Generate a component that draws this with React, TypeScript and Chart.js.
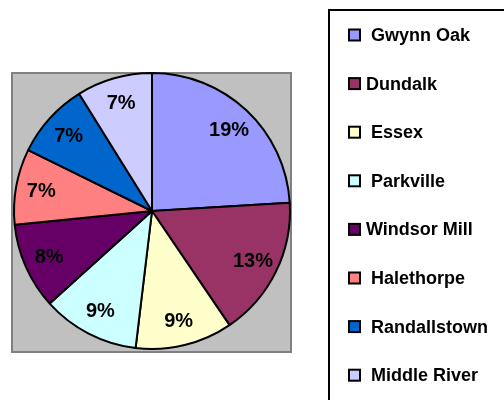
import React, { useEffect, useRef } from "react";
import { Chart, registerables } from "chart.js";

Chart.register(...registerables);

const categories = [
  " Gwynn Oak",
  "Dundalk",
  " Essex",
  " Parkville",
  "Windsor Mill",
  " Halethorpe",
  " Randallstown",
  " Middle River",
];
const values = [19, 13, 9, 9, 8, 7, 7, 7];
const colors = [
  "#9999FF",
  "#993366",
  "#FFFFCC",
  "#CCFFFF",
  "#660066",
  "#FF8080",
  "#0066CC",
  "#CCCCFF",
];

const FONT = '"Liberation Sans", Arial, sans-serif';

const bgPlugin = {
  id: "plotBg",
  beforeDraw(chart: any) {
    const { ctx, chartArea } = chart;
    ctx.save();
    const x = chartArea.left - 1;
    const y = chartArea.top + 1;
    const w = chartArea.right - chartArea.left + 1;
    const h = chartArea.bottom - chartArea.top + 1;
    ctx.fillStyle = "#C0C0C0";
    ctx.fillRect(x, y, w, h);
    ctx.strokeStyle = "#808080";
    ctx.lineWidth = 2;
    ctx.strokeRect(x, y, w, h);
    ctx.restore();
  },
};

const labelPlugin = {
  id: "sliceLabels",
  afterDatasetsDraw(chart: any) {
    const { ctx } = chart;
    const meta = chart.getDatasetMeta(0);
    const data = chart.data.datasets[0].data as number[];
    ctx.save();
    ctx.font = `bold 20px ${FONT}`;
    ctx.fillStyle = "#000000";
    ctx.textAlign = "center";
    ctx.textBaseline = "middle";
    meta.data.forEach((arc: any, i: number) => {
      const p = arc.getProps(["x", "y", "startAngle", "endAngle", "outerRadius"], true);
      const mid = (p.startAngle + p.endAngle) / 2;
      const r = p.outerRadius * 0.815;
      ctx.fillText(`${data[i]}%`, p.x + Math.cos(mid) * r, p.y + Math.sin(mid) * r + 1);
    });
    ctx.restore();
  },
};

const legendPlugin = {
  id: "boxLegend",
  afterDraw(chart: any) {
    const { ctx } = chart;
    const labels = chart.data.labels as string[];
    const bg = chart.data.datasets[0].backgroundColor as string[];
    ctx.save();
    ctx.strokeStyle = "#000000";
    ctx.lineWidth = 2;
    ctx.strokeRect(329, 10, 200, 420);
    ctx.font = `bold 18px ${FONT}`;
    ctx.textBaseline = "middle";
    ctx.textAlign = "left";
    labels.forEach((lab, i) => {
      const cy = 35 + i * 48.6;
      ctx.fillStyle = bg[i];
      ctx.fillRect(349, cy - 5.5, 11, 11);
      ctx.lineWidth = 2;
      ctx.strokeStyle = "#000000";
      ctx.strokeRect(349, cy - 5.5, 11, 11);
      ctx.fillStyle = "#000000";
      ctx.fillText(lab, 366, cy + 1);
    });
    ctx.restore();
  },
};

export default function App() {
  const ref = useRef<HTMLCanvasElement | null>(null);

  useEffect(() => {
    if (!ref.current) return;
    const chart = new Chart(ref.current, {
      type: "pie",
      data: {
        labels: categories,
        datasets: [
          {
            data: values,
            backgroundColor: colors,
            borderColor: "#000000",
            borderWidth: 2,
          },
        ],
      },
      options: {
        responsive: false,
        animation: false,
        layout: { padding: { left: 13, right: 213, top: 72, bottom: 50 } },
        plugins: {
          legend: { display: false },
          tooltip: { enabled: false },
        },
      },
      plugins: [bgPlugin, labelPlugin, legendPlugin],
    });
    return () => chart.destroy();
  }, []);

  return (
    <div style={{ position: "absolute", left: 0, top: 0, width: 504, height: 400, background: "#fff" }}>
      <canvas ref={ref} width={504} height={400} style={{ width: 504, height: 400 }} />
    </div>
  );
}
